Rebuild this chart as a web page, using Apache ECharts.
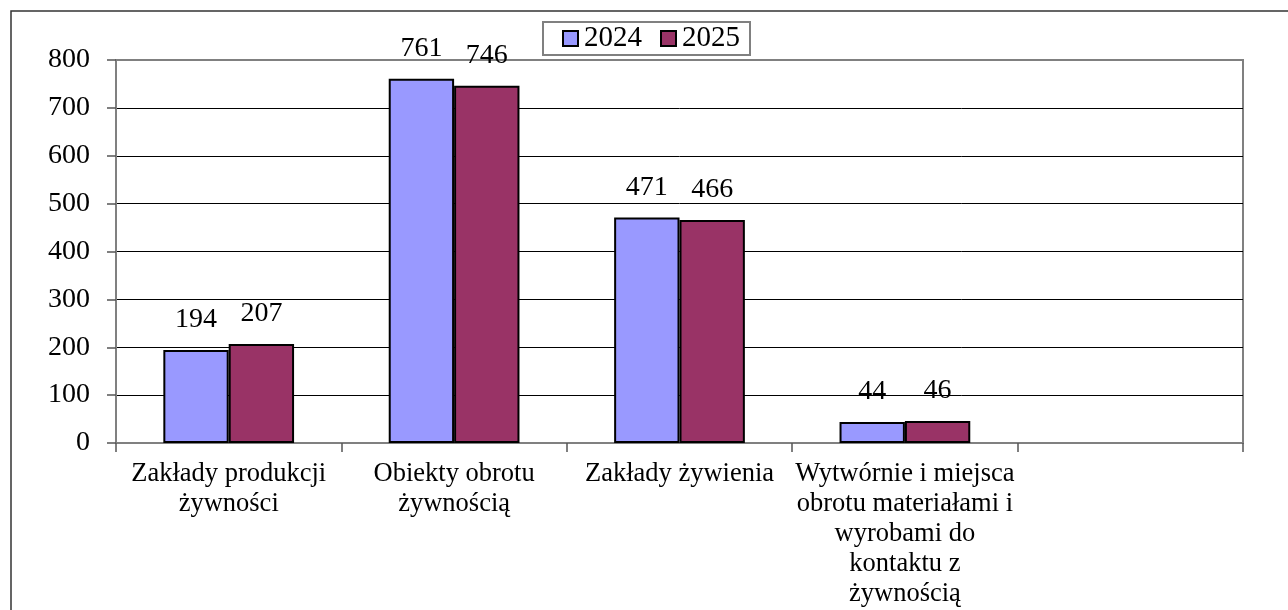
<!DOCTYPE html>
<html>
<head>
<meta charset="utf-8">
<script src="https://cdn.jsdelivr.net/npm/echarts@6/dist/echarts.min.js"></script>
<style>
  html, body { margin: 0; padding: 0; background: #fff; }
  #main { width: 1288px; height: 610px; }
</style>
</head>
<body>
<div id="main"></div>
<script>
// dane z wykresu
const categories = [
  'Zakłady produkcji\nżywności',
  'Obiekty obrotu\nżywnością',
  'Zakłady żywienia',
  'Wytwórnie i miejsca\nobrotu materiałami i\nwyrobami do\nkontaktu z\nżywnością',
  ''
]
const values2024 = [194, 761, 471, 44, null]
const values2025 = [207, 746, 466, 46, null]
const yTicks = { min: 0, max: 800, interval: 100 }

const serif = '"Liberation Serif", "Times New Roman", serif'

const chart = echarts.init(document.getElementById('main'))

const labelStyle = {
  show: true,
  position: 'top',
  distance: 16,
  color: '#000',
  fontFamily: serif,
  fontSize: 28
}

const option = {
  animation: false,
  backgroundColor: '#fff',
  graphic: [
    {
      type: 'rect',
      shape: { x: 11, y: 11, width: 1300, height: 700 },
      style: { fill: 'none', stroke: '#333', lineWidth: 1.5 },
      z: -1
    }
  ],
  legend: {
    top: 22,
    left: 543,
    padding: [2, 10, 2, 19],
    itemGap: 18,
    itemWidth: 15,
    itemHeight: 15,
    borderColor: '#808080',
    borderWidth: 2,
    borderRadius: 0,
    backgroundColor: '#fff',
    textStyle: { fontFamily: serif, fontSize: 29, color: '#000', padding: [0, 0, 0, 1] },
    itemStyle: { borderColor: '#000', borderWidth: 2 },
    icon: 'rect',
    data: ['2024', '2025']
  },
  grid: {
    left: 116,
    right: 45,
    top: 60,
    bottom: 167,
    show: true,
    borderColor: '#808080',
    borderWidth: 2,
    containLabel: false
  },
  xAxis: {
    type: 'category',
    data: categories,
    axisLine: { lineStyle: { color: '#808080', width: 2 } },
    axisTick: { show: true, length: 9, lineStyle: { color: '#555', width: 1.5 } },
    axisLabel: {
      interval: 0,
      margin: 16,
      color: '#000',
      fontFamily: serif,
      fontSize: 26.5,
      lineHeight: 30,
      align: 'center'
    }
  },
  yAxis: {
    type: 'value',
    min: yTicks.min,
    max: yTicks.max,
    interval: yTicks.interval,
    axisLine: { show: true, lineStyle: { color: '#808080', width: 2 } },
    axisTick: { show: true, length: 9, lineStyle: { color: '#555', width: 1.5 } },
    axisLabel: { margin: 26, color: '#000', fontFamily: serif, fontSize: 28 },
    splitLine: {
      show: true,
      lineStyle: {
        color: ['#000', '#000', '#000', '#000', '#000', '#000', '#000', '#000', '#808080'],
        width: 1
      }
    }
  },
  series: [
    {
      name: '2024',
      type: 'bar',
      data: values2024,
      barGap: '0%',
      barCategoryGap: '42%',
      itemStyle: { color: '#9999FF', borderColor: '#000', borderWidth: 2 },
      label: labelStyle
    },
    {
      name: '2025',
      type: 'bar',
      data: values2025,
      itemStyle: { color: '#993366', borderColor: '#000', borderWidth: 2 },
      label: labelStyle
    }
  ]
}

chart.setOption(option)
</script>
</body>
</html>
